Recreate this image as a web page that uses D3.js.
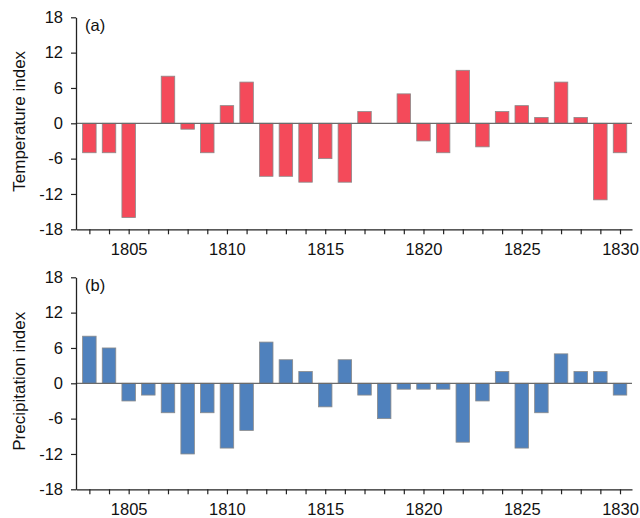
<!DOCTYPE html>
<html>
<head>
<meta charset="utf-8">
<script src="https://cdn.jsdelivr.net/npm/d3@7"></script>
<style>
  body { margin: 0; background: #fff; }
  svg { display: block; font-family: "Liberation Sans", Arial, sans-serif; }
  .axis text { font-size: 16.5px; fill: #111; font-family: "Liberation Sans", Arial, sans-serif; }
</style>
</head>
<body>
<svg id="chart" width="640" height="518"></svg>
<script>
// years on x axis
const years = d3.range(1803, 1831);
const yearLabels = [1805, 1810, 1815, 1820, 1825, 1830];
const yTicks = [-18, -12, -6, 0, 6, 12, 18];

// (a) temperature index
const temperature = [-5, -5, -16, 0, 8, -1, -5, 3, 7, -9, -9, -10, -6, -10, 2, 0,
  5, -3, -5, 9, -4, 2, 3, 1, 7, 1, -13, -5];

// (b) precipitation index
const precipitation = [8, 6, -3, -2, -5, -12, -5, -11, -8, 7, 4, 2, -4, 4, -2, -6,
  -1, -1, -1, -10, -3, 2, -11, -5, 5, 2, 2, -2];

const svg = d3.select('#chart');

const x = d3.scaleLinear()
  .domain([1802.32, 1830.61])
  .range([76, 632]);

const barW = 13.5;

function drawPanel(top, values, color, title, tag) {
  const y = d3.scaleLinear().domain([-18, 18]).range([top + 212, top]);
  const g = svg.append('g');

  // bars
  g.selectAll('rect')
    .data(values.map((v, i) => ({ year: years[i], v })).filter(d => d.v !== 0))
    .enter()
    .append('rect')
    .attr('x', d => x(d.year) - barW / 2)
    .attr('y', d => y(Math.max(0, d.v)))
    .attr('width', barW)
    .attr('height', d => Math.abs(y(d.v) - y(0)))
    .attr('fill', color)
    .attr('stroke', '#8a8a8a')
    .attr('stroke-width', 0.8);

  // zero line
  g.append('line')
    .attr('x1', x.range()[0]).attr('x2', x.range()[1])
    .attr('y1', y(0)).attr('y2', y(0))
    .attr('stroke', '#6b6b6b')
    .attr('stroke-width', 1.2);

  // y axis
  const yAxis = g.append('g')
    .attr('class', 'axis')
    .attr('transform', `translate(${x.range()[0]},0)`)
    .call(d3.axisLeft(y).tickValues(yTicks).tickSize(5).tickPadding(8)
      .tickSizeOuter(0).tickFormat(d => String(d)));
  yAxis.select('.domain').attr('stroke', '#222').attr('stroke-width', 1.3);
  yAxis.selectAll('.tick line').attr('stroke', '#222').attr('stroke-width', 1.2);

  // x axis
  const xAxis = g.append('g')
    .attr('class', 'axis')
    .attr('transform', `translate(0,${y(-18)})`)
    .call(d3.axisBottom(x).tickValues(years).tickSize(5).tickSizeOuter(0)
      .tickFormat(d => yearLabels.includes(d) ? String(d) : ''));
  xAxis.select('.domain').attr('stroke', '#222').attr('stroke-width', 1.3);
  xAxis.selectAll('.tick line').attr('stroke', '#222').attr('stroke-width', 1.2);
  xAxis.selectAll('text').attr('y', 26).attr('dy', null);

  // panel tag
  g.append('text')
    .attr('x', 85).attr('y', top + 14)
    .attr('font-size', 16.5)
    .attr('fill', '#111')
    .text(tag);

  // y title
  g.append('text')
    .attr('transform', `translate(25,${top + 104}) rotate(-90)`)
    .attr('text-anchor', 'middle')
    .attr('font-size', 17)
    .attr('fill', '#111')
    .text(title);
}

drawPanel(17.3, temperature, '#f44a5a', 'Temperature index', '(a)');
drawPanel(277.3, precipitation, '#4f81bd', 'Precipitation index', '(b)');
</script>
</body>
</html>
